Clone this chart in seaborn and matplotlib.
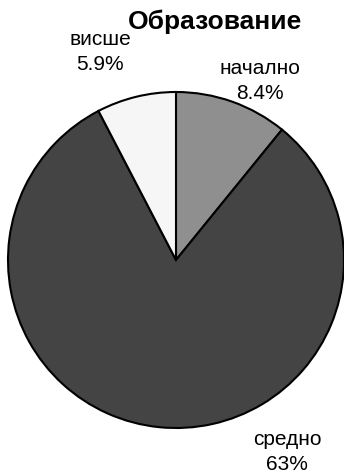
import matplotlib
matplotlib.use("Agg")
import matplotlib.pyplot as plt
import seaborn as sns

sns.set_style("white")
plt.rcParams["font.family"] = ["Liberation Sans", "DejaVu Sans"]

# Education level shares (percent)
categories = ["начално", "средно", "висше"]
values = [8.4, 63, 5.9]
value_labels = ["8.4%", "63%", "5.9%"]
colors = ["#8f8f8f", "#444444", "#f6f6f6"]

# label anchor positions, in pie-radius units
label_pos = [(0.50, 1.065), (0.66, -1.143), (-0.452, 1.238)]

fig = plt.figure(figsize=(3.44, 4.76), dpi=100)
ax = fig.add_axes([0, 0, 1, 1])
ax.pie(values, colors=colors, startangle=90, counterclock=False,
       radius=1.0, wedgeprops=dict(edgecolor="black", linewidth=1.5))

for cat, lab, (x, y) in zip(categories, value_labels, label_pos):
    ax.text(x, y, f"{cat}\n{lab}", ha="center", va="center",
            fontsize=15, color="black", linespacing=1.45)

ax.text(0.232, 1.417, "Образование", ha="center", va="center",
        fontsize=19, fontweight="bold", color="black")

ax.set_xlim(-1.0476, 1.0)
ax.set_ylim(-1.2857, 1.5476)
ax.set_aspect("auto")
ax.axis("off")

fig.savefig("out.png", dpi=100, facecolor="white")
